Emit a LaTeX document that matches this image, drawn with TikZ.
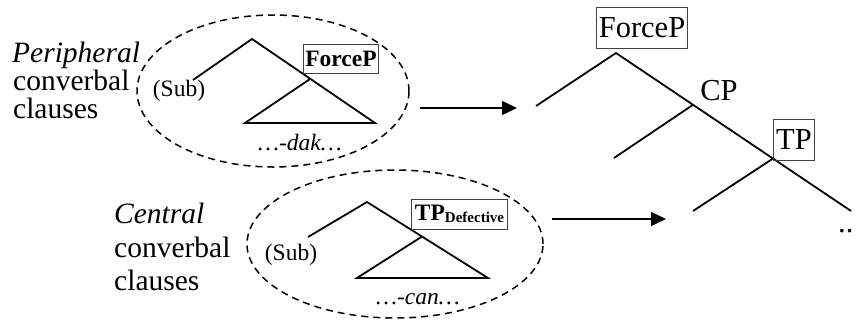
\documentclass[tikz,border=0pt]{standalone}
\usepackage{fontspec}
\setmainfont{Liberation Serif}
\usetikzlibrary{arrows.meta,shapes.geometric}

\newcommand{\bigsz}{\fontsize{29.5}{29.5}\selectfont}
\newcommand{\midsz}{\fontsize{30.5}{30.5}\selectfont}
\newcommand{\smallsz}{\fontsize{23.5}{23.5}\selectfont}

\begin{document}
\begin{tikzpicture}[x=1pt,y=-1pt,
  branch/.style={line width=1.8pt},
  clause/.style={ellipse,draw,dash pattern=on 7pt off 5pt,line width=1.5pt,inner sep=0pt},
  lbl/.style={font=\bigsz,inner sep=0pt,anchor=base west},
  headbox/.style={draw=black!75,line width=1pt,inner sep=2pt},
  goesto/.style={-{Triangle[length=15pt,width=14pt]},line width=1.4pt}]
 \useasboundingbox (0,0) rectangle (861,322);

 % peripheral clause
 \node[lbl] (P1) at (12,62) {\textit{Peripheral}};
 \node[lbl] (P2) at (13,90) {converbal};
 \node[lbl] (P3) at (13,118) {clauses};
 \node[clause,minimum width=272pt,minimum height=152pt] (E1) at (273,91) {};
 \coordinate (p1Top) at (252,39);
 \coordinate (p1Sub) at (193,80);
 \coordinate (p1Mid) at (310,79);
 \coordinate (p1Right) at (375,123);
 \coordinate (p1TriL) at (245,123);
 \draw[branch] (p1Sub) -- (p1Top) -- (p1Right) -- (p1TriL) -- (p1Mid);
 \node[font=\smallsz,inner sep=0pt] (S1) at (179,91) {(Sub)};
 \node[headbox,font=\smallsz\bfseries,minimum height=29pt] (F1) at (341,58.5) {ForceP};
 \node[font=\smallsz\itshape,inner sep=0pt,anchor=base] (D1) at (300,150) {\dots-dak\dots};

 % central clause
 \node[lbl] (C1) at (114,223) {\textit{Central}};
 \node[lbl] (C2) at (114,257) {converbal};
 \node[lbl] (C3) at (114,290) {clauses};
 \node[clause,minimum width=296pt,minimum height=148pt] (E2) at (395,244) {};
 \coordinate (c1Top) at (367,202);
 \coordinate (c1Sub) at (308,237);
 \coordinate (c1Mid) at (422,236.5);
 \coordinate (c1Right) at (488,278);
 \coordinate (c1TriL) at (357,278);
 \draw[branch] (c1Sub) -- (c1Top) -- (c1Right) -- (c1TriL) -- (c1Mid);
 \node[font=\smallsz,inner sep=0pt] (S2) at (291,255) {(Sub)};
 \node[headbox,font=\smallsz\bfseries,minimum height=30pt,inner sep=3pt] (T1) at (459.5,214)
   {TP\raisebox{-2pt}{\fontsize{15}{15}\selectfont Defective}};
 \node[font=\smallsz\itshape,inner sep=0pt,anchor=base] (D2) at (418,304) {\dots-can\dots};

 % arrows
 \coordinate (a1s) at (420,108);
 \coordinate (a1e) at (517,108);
 \coordinate (a2s) at (552,219);
 \coordinate (a2e) at (666,219);
 \draw[goesto] (a1s) -- (a1e);
 \draw[goesto] (a2s) -- (a2e);

 % full clause
 \coordinate (fTop) at (616,53);
 \coordinate (fLeft) at (536,106);
 \coordinate (cpNode) at (693,104.8);
 \coordinate (cpLeft) at (614,158);
 \coordinate (tpNode) at (773,158.5);
 \coordinate (tpLeft) at (693,211);
 \coordinate (fEnd) at (851,211);
 \draw[branch] (fLeft) -- (fTop) -- (fEnd);
 \draw[branch] (cpLeft) -- (cpNode);
 \draw[branch] (tpLeft) -- (tpNode);
 \node[headbox,font=\midsz,minimum height=41pt] (F2) at (642,27.5) {ForceP};
 \node[font=\midsz,inner sep=0pt] (CP) at (719,91) {CP};
 \node[headbox,font=\midsz,minimum height=41pt,inner sep=2.5pt] (TP) at (794,139.5) {TP};
 \node[font=\midsz,inner sep=0pt,anchor=base west] (Dots) at (838,232) {..};
\end{tikzpicture}
\end{document}
